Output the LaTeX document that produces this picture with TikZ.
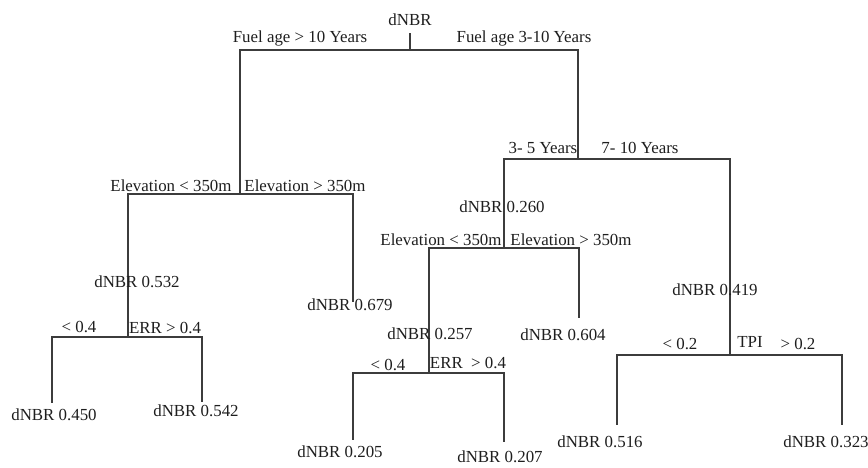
\documentclass[tikz,border=0pt]{standalone}
\usepackage{fontspec}
\setmainfont{Liberation Serif}
\usetikzlibrary{positioning}
\definecolor{branchgray}{RGB}{60, 60, 60}
\definecolor{labelblack}{RGB}{30, 30, 30}

\begin{document}
\begin{tikzpicture}[
        x=0.025cm, y=-0.025cm,
        lbl/.style={
            inner sep=0pt, text=labelblack,
            font=\fontsize{12}{14}\selectfont,
        },
        branch/.style={draw=branchgray, line width=0.9pt},
    ]
        \useasboundingbox (0,0) rectangle (868,467);

        % split points and leaf ends
        \coordinate (s0) at (410,50);
        \coordinate (s1) at (240,194);
        \coordinate (s2) at (578,159);
        \coordinate (s3) at (128,337);
        \coordinate (s4) at (504,248);
        \coordinate (s5) at (730,355);
        \coordinate (s6) at (429,373);
        \coordinate (e450) at (52,403);
        \coordinate (e542) at (202,402);
        \coordinate (e679) at (353,302);
        \coordinate (e604) at (579,318);
        \coordinate (e205) at (353,440);
        \coordinate (e207) at (504,442);
        \coordinate (e516) at (617,425);
        \coordinate (e323) at (842,425);

        % branches
        \draw[branch] (s0) -| (s1);
        \draw[branch] (s0) -| (s2);
        \draw[branch] (s1) -| (s3);
        \draw[branch] (s1) -| (e679);
        \draw[branch] (s3) -| (e450);
        \draw[branch] (s3) -| (e542);
        \draw[branch] (s2) -| (s4);
        \draw[branch] (s2) -| (s5);
        \draw[branch] (s4) -| (s6);
        \draw[branch] (s4) -| (e604);
        \draw[branch] (s6) -| (e205);
        \draw[branch] (s6) -| (e207);
        \draw[branch] (s5) -| (e516);
        \draw[branch] (s5) -| (e323);

        % root
        \node[lbl, inner ysep=5pt] (root) at (410,20) {dNBR};
        \draw[branch] (root.south) -- (s0);

        % split labels
        \node[lbl] (fuelold) at (300,38) {Fuel age > 10 Years};
        \node[lbl] (fuelyoung) at (524,38) {Fuel age 3-10 Years};
        \node[lbl] (elevlowA) at (171,186) {Elevation < 350m};
        \node[lbl] (elevhighA) at (305,186) {Elevation > 350m};
        \node[lbl] (age35) at (543,148) {3- 5 Years};
        \node[lbl] (age710) at (640,148) {7- 10 Years};
        \node[lbl] (elevlowB) at (441,240) {Elevation < 350m};
        \node[lbl] (elevhighB) at (571,240) {Elevation > 350m};
        \node[lbl] (errlowA) at (79,327) {< 0.4};
        \node[lbl] (errhighA) at (165,328) {ERR > 0.4};
        \node[lbl] (errlowB) at (388,365) {< 0.4};
        \node[lbl] (errhighB) at (468,363) {ERR \ > 0.4};
        \node[lbl] (tpilow) at (680,344) {< 0.2};
        \node[lbl] (tpi) at (750,342) {TPI};
        \node[lbl] (tpihigh) at (798,344) {> 0.2};

        % inner values
        \node[lbl] (v260) at (502,207) {dNBR 0.260};
        \node[lbl] (v532) at (137,282) {dNBR 0.532};
        \node[lbl] (v257) at (430,334) {dNBR 0.257};
        \node[lbl] (v419) at (715,290) {dNBR 0.419};

        % leaves
        \node[lbl] (v450) at (54,415) {dNBR 0.450};
        \node[lbl] (v542) at (196,411) {dNBR 0.542};
        \node[lbl] (v679) at (350,305) {dNBR 0.679};
        \node[lbl] (v604) at (563,335) {dNBR 0.604};
        \node[lbl] (v205) at (340,452) {dNBR 0.205};
        \node[lbl] (v207) at (500,457) {dNBR 0.207};
        \node[lbl] (v516) at (600,442) {dNBR 0.516};
        \node[lbl] (v323) at (826,442) {dNBR 0.323};
    \end{tikzpicture}
\end{document}
